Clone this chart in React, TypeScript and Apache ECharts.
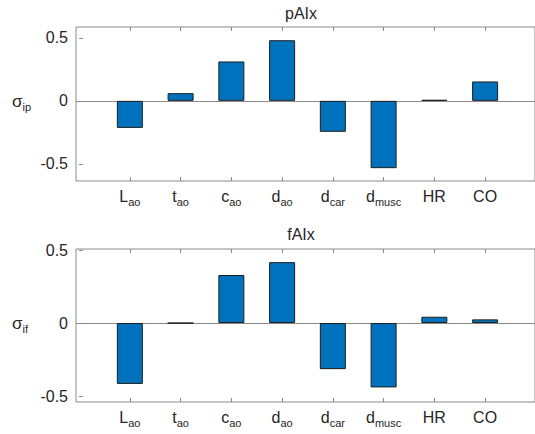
import React, { useEffect, useRef } from "react";
import * as echarts from "echarts";

const catMain = ["L", "t", "c", "d", "d", "d", "HR", "CO"];
const catSub = ["ao", "ao", "ao", "ao", "car", "musc", "", ""];
const catPos = [1, 2, 3, 4, 5, 6, 7, 8];
const pAIx = [-0.215, 0.061, 0.313, 0.482, -0.246, -0.535, 0.008, 0.154];
const fAIx = [-0.417, -0.001, 0.329, 0.417, -0.316, -0.441, 0.043, 0.025];
const yTicks = [-0.5, 0, 0.5];
const titles = ["pAIx", "fAIx"];
const yNames = [["σ", "ip"], ["σ", "if"]];

const TXT = "#262626";
const AX = "#8a8a8a";
const FONT = "Liberation Sans, Arial, sans-serif";
const XMIN = -0.061;
const XMAX = 8.983;

export default function App() {
  const ref = useRef<HTMLDivElement>(null);
  useEffect(() => {
    document.body.style.margin = "0";
    document.body.style.overflow = "hidden";
    const chart = echarts.init(ref.current!, null, { renderer: "svg" });
    const grids = [
      { left: 76, top: 27, width: 460, height: 154, ymin: -0.637, ymax: 0.587 },
      { left: 76, top: 249, width: 460, height: 153, ymin: -0.541, ymax: 0.507 },
    ];
    const seriesData = [pAIx, fAIx];
    const xAxes: any[] = [];
    const yAxes: any[] = [];
    const series: any[] = [];
    grids.forEach((g, i) => {
      const tickCommon = {
        show: true,
        inside: true,
        length: 4,
        customValues: catPos,
        lineStyle: { color: AX, width: 1 },
      };
      xAxes.push({
        gridIndex: i,
        type: "value",
        position: "bottom",
        min: XMIN,
        max: XMAX,
        axisLine: { show: false, onZero: false },
        splitLine: { show: false },
        axisTick: tickCommon,
        axisLabel: {
          customValues: catPos,
          margin: 7,
          color: TXT,
          fontFamily: FONT,
          formatter: (v: number) => {
            const k = Math.round(v) - 1;
            if (k < 0 || k >= catMain.length) return "";
            return catSub[k]
              ? `{b|${catMain[k]}}{s|${catSub[k]}}`
              : `{b|${catMain[k]}}`;
          },
          rich: {
            b: { fontSize: 16, lineHeight: 16, verticalAlign: "top", color: TXT, fontFamily: FONT },
            s: { fontSize: 11, lineHeight: 11, padding: [8, 0, 0, 0], verticalAlign: "top", color: TXT, fontFamily: FONT },
          },
        },
      });
      xAxes.push({
        gridIndex: i,
        type: "value",
        position: "top",
        min: XMIN,
        max: XMAX,
        axisLine: { show: false, onZero: false },
        splitLine: { show: false },
        axisTick: tickCommon,
        axisLabel: { show: false },
      });
      yAxes.push({
        gridIndex: i,
        type: "value",
        min: g.ymin,
        max: g.ymax,
        axisLine: { show: false },
        splitLine: { show: false },
        axisTick: {
          show: true,
          inside: true,
          length: 4,
          customValues: yTicks,
          lineStyle: { color: AX, width: 1 },
        },
        axisLabel: {
          customValues: yTicks,
          margin: 8,
          color: TXT,
          fontSize: 16,
          fontFamily: FONT,
          formatter: (v: number) => String(v),
        },
      });
      series.push({
        type: "bar",
        xAxisIndex: i * 2,
        yAxisIndex: i,
        barWidth: 26,
        data: catPos.map((p, k) => [p, seriesData[i][k]]),
        itemStyle: { color: "#0072BD", borderColor: "#1e1e1e", borderWidth: 1 },
        markLine: {
          silent: true,
          symbol: "none",
          label: { show: false },
          lineStyle: { color: AX, type: "solid", width: 1 },
          data: [{ yAxis: 0 }],
          z: 1,
        },
      });
    });

    const graphics: any[] = [];
    const titleY = [13, 234];
    const nameY = [101, 323];
    titles.forEach((t, i) => {
      graphics.push({
        type: "text",
        x: 301,
        y: titleY[i],
        style: {
          text: t,
          fontSize: 16,
          fontFamily: FONT,
          fill: TXT,
          align: "center",
          verticalAlign: "middle",
        },
      });
      graphics.push({
        type: "text",
        x: 12,
        y: nameY[i],
        style: {
          text: `{b|${yNames[i][0]}}{s|${yNames[i][1]}}`,
          verticalAlign: "middle",
          rich: {
            b: { fontSize: 17, lineHeight: 16, verticalAlign: "top", fill: TXT, fontFamily: FONT },
            s: { fontSize: 11, lineHeight: 11, padding: [8, 0, 0, 0], verticalAlign: "top", fill: TXT, fontFamily: FONT },
          },
        },
      });
    });

    chart.setOption({
      animation: false,
      backgroundColor: "#ffffff",
      grid: grids.map((g) => ({
        left: g.left,
        top: g.top,
        width: g.width,
        height: g.height,
        show: true,
        borderColor: AX,
        borderWidth: 1,
        backgroundColor: "transparent",
        containLabel: false,
      })),
      xAxis: xAxes,
      yAxis: yAxes,
      series,
      graphic: graphics,
    });
    return () => chart.dispose();
  }, []);
  return <div ref={ref} style={{ width: 535, height: 434 }} />;
}
